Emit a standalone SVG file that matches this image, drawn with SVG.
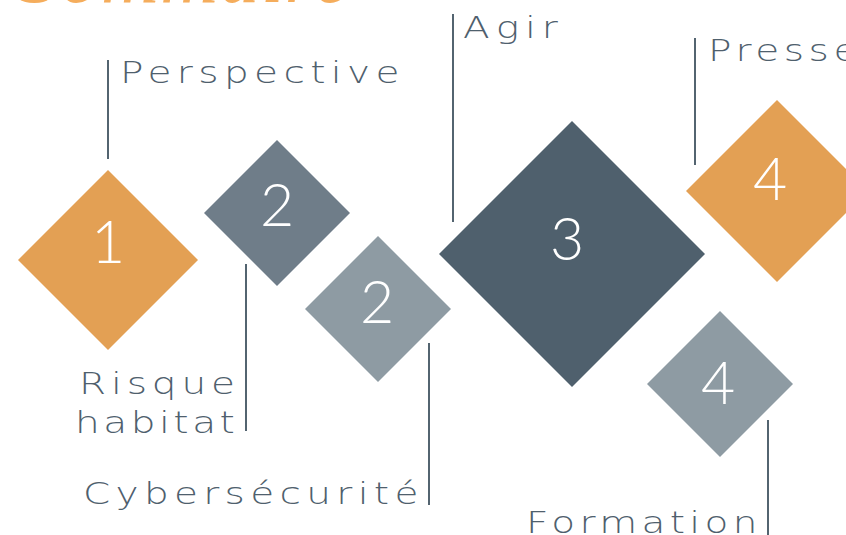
<svg xmlns="http://www.w3.org/2000/svg" width="846" height="535" viewBox="0 0 846 535">
<style>
.lbl{font-family:"DejaVu Sans","Liberation Sans",sans-serif;font-weight:200;font-size:30px;fill:#4F606D;}
.num{font-family:"Lato","Open Sans",sans-serif;font-weight:300;font-size:59px;fill:#ffffff;text-anchor:middle;}
.ln{stroke:#536470;stroke-width:2;fill:none;}
.org{fill:#E3A054;}
.dk{fill:#4F606D;}
.md{fill:#6F7D89;}
.lt{fill:#8E9BA3;}
</style>
<rect width="846" height="535" fill="#ffffff"/>
<text x="18" y="2" font-family="'Liberation Serif',serif" font-style="italic" font-size="80" fill="#F5AD5C" textLength="332" lengthAdjust="spacing">Sommaire</text>
<g id="connectors">
<line class="ln" x1="108" y1="60" x2="108" y2="159"/>
<line class="ln" x1="246" y1="264" x2="246" y2="431"/>
<line class="ln" x1="429" y1="343" x2="429" y2="505"/>
<line class="ln" x1="453" y1="14" x2="453" y2="222"/>
<line class="ln" x1="695" y1="38" x2="695" y2="165"/>
<line class="ln" x1="768" y1="420" x2="768" y2="535"/>
</g>
<g id="node1">
<polygon class="org" points="108,170 198,260 108,350 18,260"/>
<text class="num" x="108" y="263">1</text>
<text class="lbl" transform="translate(120,83) scale(1.3,1)" textLength="215" lengthAdjust="spacing">Perspective</text>
</g>
<g id="node2a">
<polygon class="md" points="277,140 350,213 277,286 204,213"/>
<text class="num" x="277" y="226">2</text>
<text class="lbl" transform="translate(79,394) scale(1.3,1)" textLength="120" lengthAdjust="spacing">Risque</text>
<text class="lbl" transform="translate(75,433) scale(1.3,1)" textLength="123" lengthAdjust="spacing">habitat</text>
</g>
<g id="node2b">
<polygon class="lt" points="378,236 451,309 378,382 305,309"/>
<text class="num" x="377" y="323">2</text>
<text class="lbl" transform="translate(83,504) scale(1.3,1)" textLength="258" lengthAdjust="spacing">Cybersécurité</text>
</g>
<g id="node3">
<polygon class="dk" points="572,121 705,254 572,387 439,254"/>
<text class="num" x="567" y="260">3</text>
<text class="lbl" transform="translate(463,38) scale(1.3,1)" textLength="73" lengthAdjust="spacing">Agir</text>
</g>
<g id="node4a">
<polygon class="org" points="777,100 868,191 777,282 686,191"/>
<text class="num" x="770" y="200">4</text>
<text class="lbl" transform="translate(708,61) scale(1.3,1)" textLength="115" lengthAdjust="spacing">Presse</text>
</g>
<g id="node4b">
<polygon class="lt" points="720,311 793,384 720,457 647,384"/>
<text class="num" x="718" y="404">4</text>
<text class="lbl" transform="translate(526,533) scale(1.3,1)" textLength="178" lengthAdjust="spacing">Formation</text>
</g>
</svg>
